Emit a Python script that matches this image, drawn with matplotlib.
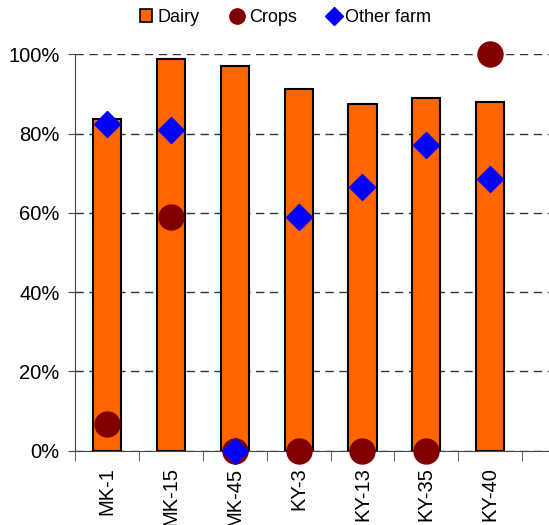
import matplotlib.pyplot as plt
from matplotlib.ticker import FixedLocator, PercentFormatter
from matplotlib.lines import Line2D
from matplotlib.patches import Patch

plt.rcParams['font.family'] = ['Liberation Sans', 'DejaVu Sans']

# Data
farms = ['MK-1', 'MK-15', 'MK-45', 'KY-3', 'KY-13', 'KY-35', 'KY-40']
dairy = [83.7, 98.9, 97.1, 91.3, 87.5, 89.0, 88.0]
crops = [6.7, 58.9, 0, 0, 0, 0, 100]
other_farm = [82.3, 80.9, 0, 58.9, 66.4, 77.0, 68.5]

x = list(range(len(farms)))

fig = plt.figure(figsize=(5.49, 5.25), dpi=100)
ax = fig.add_axes([0.1366, 0.1415, 0.8634, 0.7551])

ax.bar(x, dairy, width=0.44, color='#FF6600', edgecolor='black', linewidth=1.5, zorder=2)
ax.plot(x, crops, 'o', color='#800000', markersize=18, linestyle='none', zorder=3, clip_on=False)
ax.plot(x, other_farm, 'D', color='#0000FF', markersize=13, linestyle='none', zorder=4, clip_on=False)

ax.set_xlim(-0.5, 6.92)
ax.set_ylim(0, 100)

ax.set_yticks([0, 20, 40, 60, 80, 100])
ax.yaxis.set_major_formatter(PercentFormatter(decimals=0))
ax.yaxis.grid(True, linestyle=(0, (6, 4)), color='#333333', linewidth=1)
ax.set_axisbelow(True)

# category labels, tick marks at the boundaries
ax.set_xticks(x)
ax.set_xticklabels(farms, rotation=90)
ax.tick_params(axis='x', which='major', length=0, pad=12, labelsize=14.5)
ax.xaxis.set_minor_locator(FixedLocator([i - 0.5 for i in range(len(farms) + 1)]))
ax.tick_params(axis='x', which='minor', length=7, direction='out', color='#444444')
ax.tick_params(axis='y', length=5, direction='out', labelsize=14.5, pad=6, color='#444444')

ax.spines['top'].set_visible(False)
ax.spines['right'].set_visible(False)
ax.spines['left'].set_color('#444444')
ax.spines['bottom'].set_color('#444444')

handles = [
    Patch(facecolor='#FF6600', edgecolor='black', linewidth=1.2),
    Line2D([], [], marker='o', color='#800000', linestyle='none', markersize=11),
    Line2D([], [], marker='D', color='#0000FF', linestyle='none', markersize=9),
]
fig.legend(handles, ['Dairy', 'Crops', 'Other farm'], loc='center', bbox_to_anchor=(0.52, 0.967),
           ncol=3, frameon=False, fontsize=13, handlelength=0.7, handletextpad=0.3,
           columnspacing=1.7, handleheight=0.7)

fig.savefig('out.png', dpi=100)
